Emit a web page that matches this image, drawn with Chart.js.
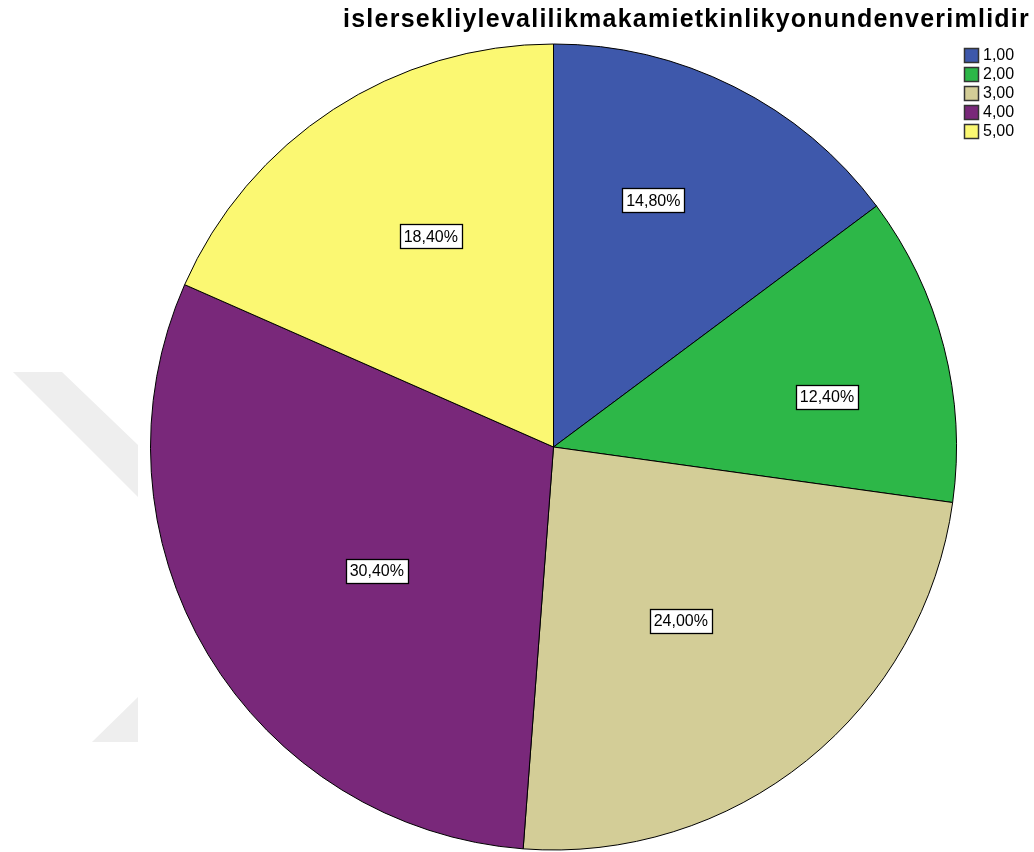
<!DOCTYPE html>
<html>
<head>
<meta charset="utf-8">
<script src="https://cdn.jsdelivr.net/npm/chart.js@4.4.0/dist/chart.umd.min.js"></script>
<style>
  html, body { margin: 0; padding: 0; background: #fff; }
  #wrap { width: 1034px; height: 852px; position: relative; }
</style>
</head>
<body>
<div id="wrap"><canvas id="pie" width="1034" height="852"></canvas></div>
<script>
// chart data
const chartTitle = 'islersekliylevalilikmakamietkinlikyonundenverimlidir';
const categories = ['1,00', '2,00', '3,00', '4,00', '5,00'];
const percents = [14.8, 12.4, 24.0, 30.4, 18.4];
const sliceColors = ['#3e58ab', '#2db748', '#d3cd97', '#79287a', '#fbf872'];

// label placement tweaks (fraction of radius, angle shift in degrees)
const labelRadius = [0.66, 0.69, 0.535, 0.535, 0.605];
const labelAngleShift = [-4.6, 4.0, 2.7, -4.0, 2.9];

const fmt = v => v.toFixed(2).replace('.', ',') + '%';

// faint watermark in the background + title + legend
const decorPlugin = {
    id: 'decor',
    beforeDraw(chart) {
        const ctx = chart.ctx;
        ctx.save();
        ctx.fillStyle = '#eeeeee';
        ctx.beginPath();
        ctx.moveTo(13, 372); ctx.lineTo(62, 372); ctx.lineTo(138, 445);
        ctx.lineTo(138, 497); ctx.closePath(); ctx.fill();
        ctx.beginPath();
        ctx.moveTo(138, 697); ctx.lineTo(92, 742); ctx.lineTo(138, 742);
        ctx.closePath(); ctx.fill();
        ctx.restore();
    },
    afterDraw(chart) {
        const ctx = chart.ctx;
        ctx.save();
        ctx.fillStyle = '#000';
        // title: stretch a bit so it spans the same width as the original
        ctx.font = 'bold 25px "Liberation Sans", Arial, sans-serif';
        const natural = ctx.measureText(chartTitle).width;
        const gap = Math.max(0, (686 - natural) / (chartTitle.length - 1));
        ctx.letterSpacing = gap.toFixed(2) + 'px';
        ctx.textAlign = 'left';
        ctx.textBaseline = 'alphabetic';
        ctx.fillText(chartTitle, 343, 27);
        ctx.letterSpacing = '0px';

        ctx.font = '16px "Liberation Sans", Arial, sans-serif';
        ctx.textBaseline = 'middle';
        categories.forEach((c, i) => {
            const top = 48 + i * 19;
            ctx.fillStyle = sliceColors[i];
            ctx.fillRect(964, top, 14, 14);
            ctx.strokeStyle = '#333';
            ctx.lineWidth = 1.5;
            ctx.strokeRect(964.5, top + 0.5, 14, 14);
            ctx.fillStyle = '#000';
            ctx.fillText(c, 983, top + 8);
        });
        ctx.restore();
    }
};

// boxed percentage labels inside the slices
const sliceLabels = {
    id: 'sliceLabels',
    afterDatasetsDraw(chart) {
        const ctx = chart.ctx;
        const meta = chart.getDatasetMeta(0);
        ctx.save();
        ctx.font = '16px "Liberation Sans", Arial, sans-serif';
        ctx.textAlign = 'center';
        ctx.textBaseline = 'middle';
        meta.data.forEach((arc, i) => {
            const p = arc.getProps(['x', 'y', 'startAngle', 'endAngle', 'outerRadius'], true);
            const a = (p.startAngle + p.endAngle) / 2 + labelAngleShift[i] * Math.PI / 180;
            const r = p.outerRadius * labelRadius[i];
            const cx = p.x + Math.cos(a) * r;
            const cy = p.y + Math.sin(a) * r;
            const txt = fmt(percents[i]);
            const w = Math.round(ctx.measureText(txt).width) + 8;
            const h = 24;
            const bx = Math.round(cx - w / 2) + 0.5;
            const by = Math.round(cy - h / 2) + 0.5;
            ctx.fillStyle = '#fff';
            ctx.fillRect(bx, by, w, h);
            ctx.strokeStyle = '#000';
            ctx.lineWidth = 1.3;
            ctx.strokeRect(bx, by, w, h);
            ctx.fillStyle = '#000';
            ctx.fillText(txt, cx, cy + 1);
        });
        ctx.restore();
    }
};

new Chart(document.getElementById('pie'), {
    type: 'pie',
    data: {
        labels: categories,
        datasets: [{
            data: percents,
            backgroundColor: sliceColors,
            borderColor: '#000',
            borderWidth: 1
        }]
    },
    options: {
        responsive: false,
        animation: false,
        layout: { padding: { top: 43, bottom: 1, left: 150, right: 77 } },
        plugins: {
            legend: { display: false },
            tooltip: { enabled: false },
            title: { display: false }
        }
    },
    plugins: [decorPlugin, sliceLabels]
});
</script>
</body>
</html>
